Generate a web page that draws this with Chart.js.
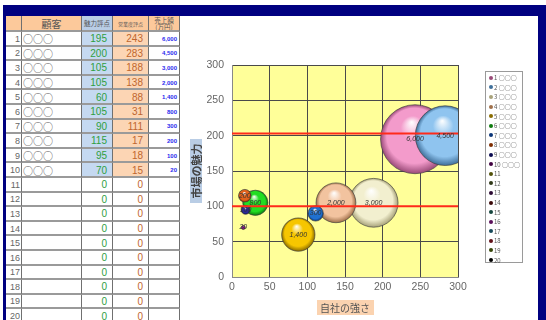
<!DOCTYPE html>
<html lang="ja">
<head>
<meta charset="utf-8">
<script src="https://cdn.jsdelivr.net/npm/chart.js@4.4.1/dist/chart.umd.min.js"></script>
<style>
  html, body { margin: 0; padding: 0; width: 546px; height: 320px; overflow: hidden; background: #fff; }
  #frame { position: absolute; left: 3px; top: 5px; width: 543px; height: 330px; background: #000080; }
  #sheet {
    position: absolute; left: 6px; top: 16px; width: 174px; background: #fff;
    display: grid; grid-template-columns: 16px 60px 31px 36px 31px;
    grid-template-rows: 16px repeat(20, 14.6px);
  }
  .c {
    box-sizing: border-box; border-right: 1px solid #707070; border-bottom: 2px solid #9a9a9a;
    overflow: hidden; white-space: nowrap; display: flex; align-items: center;
    font-family: "Liberation Sans", Arial, sans-serif; padding-top: 1px;
  }
  .hd { background: #fcc99b; justify-content: center; color: #555; font-family: "Noto Sans CJK JP", sans-serif; line-height: 1; }
  .num { justify-content: flex-end; color: #666; font-size: 9px; padding-right: 1px; }
  .name { font-family: "Noto Sans CJK JP", sans-serif; font-size: 10px; color: #555; padding-left: 1px; }
  .att { justify-content: flex-end; color: #2f9e3f; font-size: 10px; padding-right: 5px; }
  .sal { justify-content: flex-end; color: #c0662e; font-size: 10px; padding-right: 5px; }
  .amt { justify-content: flex-end; color: #2a2aee; font-size: 6px; font-weight: bold; padding-right: 2px; }
  #chartBox { position: absolute; left: 180px; top: 16px; width: 358px; height: 304px; background: #fff; }
  #legend {
    position: absolute; left: 485px; top: 71px; width: 38px; height: 192px; box-sizing: border-box;
    border: 1px solid #9a9a9a; background: #fff; padding-top: 1px;
  }
  .lg { height: 9.6px; display: flex; align-items: center; font-family: "Noto Sans CJK JP", sans-serif; font-size: 6px; color: #555; padding-left: 3px; }
  .lg i { display: inline-block; width: 4px; height: 4px; border-radius: 50%; margin-right: 1px; }
</style>
</head>
<body>
<div id="frame"></div>
<div id="sheet"></div>
<div id="chartBox"><canvas id="bubbleChart" width="358" height="304"></canvas></div>
<div id="legend"></div>
<script>
// 顧客データ
const customers = ['○○○', '○○○', '○○○', '○○○', '○○○', '○○○', '○○○', '○○○', '○○○', '○○○',
    '', '', '', '', '', '', '', '', '', ''];
const attractScore = [195, 200, 105, 105, 60, 105, 90, 115, 95, 70, 0, 0, 0, 0, 0, 0, 0, 0, 0, 0];
const salesScore = [243, 283, 188, 138, 88, 31, 111, 17, 18, 15, 0, 0, 0, 0, 0, 0, 0, 0, 0, 0];
const salesAmount = [6000, 4500, 3000, 2000, 1400, 800, 300, 200, 100, 20,
    null, null, null, null, null, null, null, null, null, null];
const refLines = [100, 203];
const axisTicks = [0, 50, 100, 150, 200, 250, 300];

const bubbleColors = [
    ['#f39bcb', '#9a4a78'], ['#8fc4ef', '#3f6f9a'], ['#f2efcf', '#a8a27a'], ['#f2c39f', '#a0704a'],
    ['#f6c600', '#8a6c00'], ['#22dd22', '#0e7a0e'], ['#1f70d0', '#0a3578'], ['#e2621c', '#7e2c00'],
    ['#2a2a9a', '#0a0a50'], ['#8a108a', '#400040'], ['#8c8c1a', '#505008'], ['#5e6b2e', '#303818'],
    ['#5a1a66', '#2c0a33'], ['#6b1414', '#3a0808'], ['#2e8a7a', '#15453d'], ['#b020b0', '#5a105a'],
    ['#2a8fb0', '#154858'], ['#c02030', '#601018'], ['#6a8a10', '#354508'], ['#303030', '#000000']
];

// 表
const sheet = document.getElementById('sheet');
function cell(cls, html, bg) {
    const d = document.createElement('div');
    d.className = 'c ' + cls;
    d.innerHTML = html;
    if (bg) d.style.background = bg;
    sheet.appendChild(d);
}
cell('hd', '');
cell('hd', '<span style="font-size:10px">顧客</span>');
cell('hd', '<span style="font-size:6.5px">魅力評点</span>', '#b9cde5');
cell('hd', '<span style="font-size:5px">営業度評点</span>');
cell('hd', '<span style="font-size:6.5px;text-align:center">売上額<br>(万円)</span>');
customers.forEach((name, i) => {
    const filled = i < 10;
    cell('num', String(i + 1));
    cell('name', name);
    cell('att', attractScore[i], filled ? '#c5d9f1' : '#fff');
    cell('sal', salesScore[i], filled ? '#fcd5b4' : '#fff');
    cell('amt', salesAmount[i] ? salesAmount[i].toLocaleString('en-US') : '');
});

// 凡例
const legend = document.getElementById('legend');
customers.forEach((name, i) => {
    const d = document.createElement('div');
    d.className = 'lg';
    d.innerHTML = '<i style="background:' + bubbleColors[i][1] + '"></i>' + (i + 1) + ' ' + name;
    legend.appendChild(d);
});

const MAX_R = 34.5;
const maxAmount = Math.max(...salesAmount.filter(v => v));

function sphere(context, i) {
    const chart = context.chart;
    const raw = context.raw;
    const [base, rim] = bubbleColors[i];
    if (!raw || !chart.chartArea || !raw.r) return base;
    const x = chart.scales.x.getPixelForValue(raw.x);
    const y = chart.scales.y.getPixelForValue(raw.y);
    const r = raw.r;
    const g = chart.ctx.createRadialGradient(x - r * 0.1, y - r * 0.5, 0, x, y, r);
    g.addColorStop(0, '#ffffff');
    g.addColorStop(0.35, base);
    g.addColorStop(0.8, base);
    g.addColorStop(1, rim);
    return g;
}

const datasets = customers.map((name, i) => ({
    label: (i + 1) + ' ' + name,
    data: [{ x: salesScore[i], y: attractScore[i], r: salesAmount[i] ? MAX_R * Math.sqrt(salesAmount[i] / maxAmount) : 0 }],
    backgroundColor: ctx => sphere(ctx, i),
    borderColor: 'rgba(60,60,60,0.8)',
    borderWidth: 0.8,
    order: 20 - i
}));
refLines.forEach(v => {
    datasets.push({
        type: 'line',
        data: [{ x: axisTicks[0], y: v }, { x: axisTicks[axisTicks.length - 1], y: v }],
        borderColor: '#ff2a1a',
        borderWidth: 2,
        pointRadius: 0,
        order: -1
    });
});

const plotBg = {
    id: 'plotBg',
    beforeDraw(chart) {
        const a = chart.chartArea;
        chart.ctx.save();
        chart.ctx.fillStyle = '#ffff99';
        chart.ctx.fillRect(a.left, a.top, a.right - a.left, a.bottom - a.top);
        chart.ctx.restore();
    }
};

const bubbleLabels = {
    id: 'bubbleLabels',
    afterDatasetsDraw(chart) {
        const ctx = chart.ctx;
        ctx.save();
        ctx.font = 'italic 7px "Liberation Sans"';
        ctx.fillStyle = '#333';
        ctx.textAlign = 'center';
        ctx.textBaseline = 'middle';
        salesAmount.forEach((amt, i) => {
            if (!amt) return;
            const el = chart.getDatasetMeta(i).data[0];
            ctx.fillText(amt.toLocaleString('en-US'), el.x, el.y);
        });
        ctx.restore();
    }
};

const axisTitles = {
    id: 'axisTitles',
    afterDraw(chart) {
        const ctx = chart.ctx;
        const a = chart.chartArea;
        const cx = (a.left + a.right) / 2;
        const cy = (a.top + a.bottom) / 2;
        ctx.save();
        ctx.fillStyle = '#fbd3b0';
        ctx.fillRect(cx - 28, 284, 57, 15);
        ctx.fillStyle = '#555';
        ctx.font = '10px "Noto Sans CJK JP"';
        ctx.textAlign = 'center';
        ctx.textBaseline = 'middle';
        ctx.fillText('自社の強さ', cx, 292);

        ctx.fillStyle = '#b9cde5';
        ctx.fillRect(10, cy - 32, 12, 64);
        ctx.translate(16, cy);
        ctx.rotate(-Math.PI / 2);
        ctx.fillStyle = '#444';
        ctx.font = 'bold 11px "Noto Sans CJK JP"';
        ctx.fillText('市場の魅力', 0, 0.5);
        ctx.restore();
    }
};

const tickFont = { family: '"Liberation Sans", Arial, sans-serif', size: 10.5 };

new Chart(document.getElementById('bubbleChart'), {
    type: 'bubble',
    data: { datasets },
    options: {
        responsive: false,
        animation: false,
        devicePixelRatio: 1,
        layout: { padding: { left: 0, top: 49, right: 80, bottom: 0 } },
        plugins: { legend: { display: false }, tooltip: { enabled: false } },
        scales: {
            x: {
                type: 'linear',
                min: axisTicks[0], max: axisTicks[axisTicks.length - 1],
                ticks: { stepSize: 50, color: '#666', font: tickFont, padding: 4 },
                grid: { color: '#4a4a4a', lineWidth: 1, drawTicks: false },
                border: { color: '#888' },
                afterFit(scale) { scale.height = 43; }
            },
            y: {
                type: 'linear',
                min: axisTicks[0], max: axisTicks[axisTicks.length - 1],
                ticks: { stepSize: 50, color: '#666', font: tickFont, padding: 8 },
                grid: { color: '#4a4a4a', lineWidth: 1, drawTicks: false },
                border: { color: '#888' },
                afterFit(scale) { scale.width = 52; }
            }
        }
    },
    plugins: [plotBg, bubbleLabels, axisTitles]
});
</script>
</body>
</html>
